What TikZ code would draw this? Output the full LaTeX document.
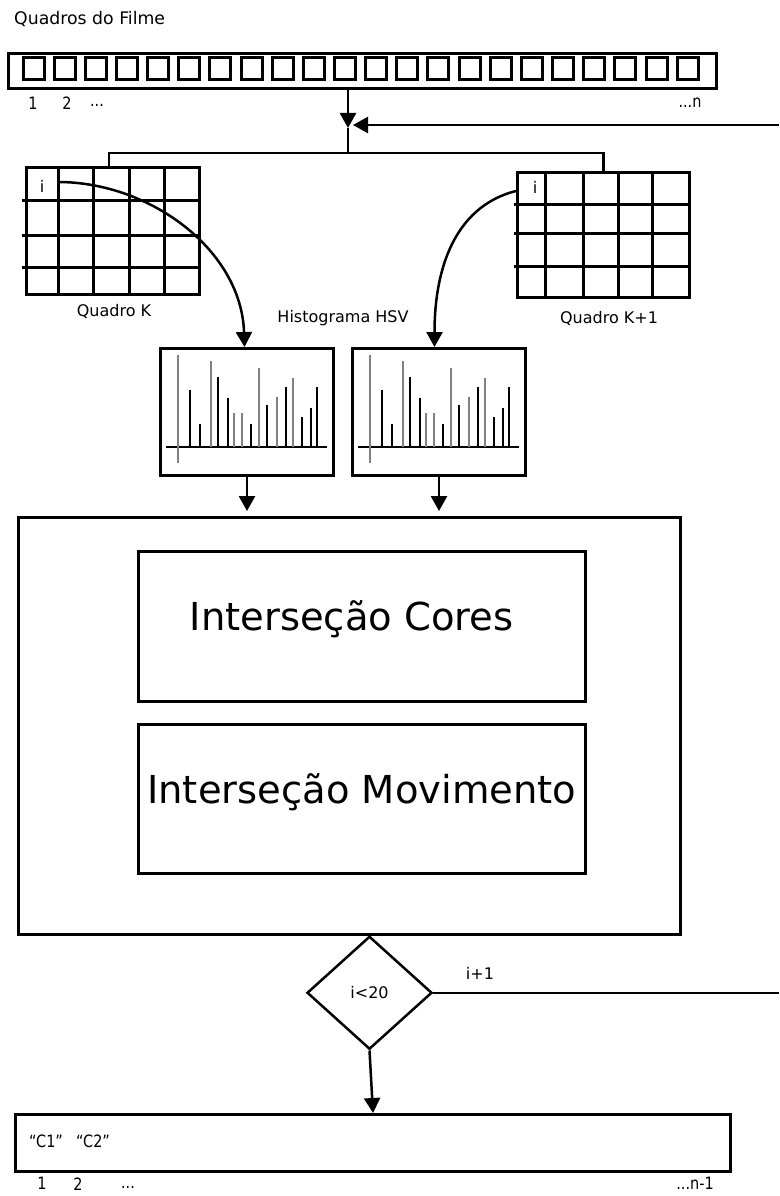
\documentclass[tikz,border=0pt]{standalone}
\usepackage{fontspec}
\setmainfont{DejaVu Sans}
\newfontfamily\condfont[FakeStretch=0.85]{DejaVu Sans}
\usetikzlibrary{arrows.meta,shapes.geometric,positioning}

\begin{document}
\begin{tikzpicture}[x=1pt,y=-1pt,>={Triangle[width=16pt,length=15pt]},
    every node/.style={font=\fontsize{16}{18}\selectfont},
    box/.style={draw,rectangle,line width=2.5pt,inner sep=0pt,anchor=north west},
    lbl/.style={inner sep=0pt,font=\condfont\fontsize{17}{19}\selectfont},
    big/.style={anchor=base,inner sep=0pt,font=\fontsize{38.5}{44}\selectfont},
    flow/.style={line width=2.5pt}]
        \useasboundingbox (0,0) rectangle (779,1196);
        % film frames
        \node [anchor=west,inner sep=0pt,font=\fontsize{17.3}{19}\selectfont] (title) at (14,19) {Quadros do Filme};
        \node [box,line width=3pt,minimum width=708pt,minimum height=35pt] (strip) at (7,52) {};
        \foreach \i in {0,...,21}
            \draw [line width=3pt] ({23+31.15*\i},58) rectangle +(21,22);
        \node [lbl] (f1) at (33,103) {1};
        \node [lbl] (f2) at (67,103) {2};
        \node [lbl] (fdots) at (97,105) {...};
        \node [lbl] (fn) at (690,103) {...n};
        % split to the two frames
        \coordinate (join) at (348,128);
        \coordinate (split) at (348,153);
        \coordinate (loopTop) at (779,125);
        \draw [flow,->] (strip.south -| join) -- (join);
        \draw [flow,->] (loopTop) -- ([xshift=5pt]join |- loopTop);
        \draw [flow] (join) -- (split);
        \node [box,line width=3pt,minimum width=173pt,minimum height=127pt] (gridK) at (25,166) {};
        \node [box,line width=3pt,minimum width=172pt,minimum height=125pt] (gridK1) at (516,171) {};
        \draw [flow] ([xshift=-4pt]gridK.north) |- (split) -| (gridK1.north);
        \foreach \dx in {33,68,104,139}
            \draw [line width=3pt] (gridK.north west) ++(\dx,0) -- ++(0,127);
        \foreach \dy in {34,69,101}
            \draw [line width=3pt] (gridK.north west) ++(-3,\dy) -- ++(176,0);
        \foreach \dx in {29,67,102,136}
            \draw [line width=3pt] (gridK1.north west) ++(\dx,0) -- ++(0,125);
        \foreach \dy in {33,62,95}
            \draw [line width=3pt] (gridK1.north west) ++(-2,\dy) -- ++(175,0);
        \node (iK) at (42,186) {i};
        \node (iK1) at (535,187) {i};
        \node (qK) at (114,311) {Quadro K};
        \node (qK1) at (609,318) {Quadro K+1};
        \node (hsv) at (343,318) {Histograma HSV};
        % histograms
        \node [box,line width=3pt,minimum width=173pt,minimum height=127pt] (histK) at (159,347) {};
        \node [box,line width=3pt,minimum width=173pt,minimum height=127pt] (histK1) at (351,347) {};
        \foreach \h in {histK,histK1} {
            \begin{scope}[shift={(\h.north west)}]
                \draw [line width=1.6pt] (7,100) -- (168,100);
                \draw [line width=2pt,gray] (19,8) -- (19,116);
                \foreach \bx/\by/\bc in {31/43/black,41/77/black,52/14/gray,59/30/black,
                        69/51/black,75/66/gray,83/66/gray,92/77/black,100/21/gray,
                        108/58/black,118/50/gray,127/40/black,134/31/gray,143/70/black,
                        152/61/black,158/40/black}
                    \draw [line width=2pt,\bc] (\bx,100) -- (\bx,\by);
            \end{scope}
        }
        \draw [flow,->] ([shift={(33,16)}]gridK.north west) .. controls +(92,0) and +(-3,-97) .. ([xshift=-2.5pt]histK.north);
        \draw [flow,->] ([shift={(0,20)}]gridK1.north west) .. controls +(-56,14) and +(0,-87) .. ([xshift=-4.5pt]histK1.north);
        \draw [flow,->] (histK.south) -- ++(0,34);
        \draw [flow,->] (histK1.south) -- ++(0,34);
        % intersection
        \node [box,minimum width=662pt,minimum height=417pt] (proc) at (17,516) {};
        \node [box,minimum width=447pt,minimum height=150pt] (cores) at (137,550) {};
        \node [box,minimum width=447pt,minimum height=149pt] (movim) at (137,723) {};
        \node [big] (coresTxt) at ([xshift=-10pt,yshift=-4pt]cores.center) {Interseção Cores};
        \node [big] (movimTxt) at ([yshift=-5pt]movim.center) {Interseção Movimento};
        % test and result
        \node [draw,diamond,line width=2.5pt,minimum width=125pt,minimum height=113pt,
               inner sep=0pt,anchor=north] (test) at (369.5,935) {i<20};
        \coordinate (loopBot) at (779,991);
        \draw [flow] (test.east) -- (test.east -| loopBot);
        \node (inc) at (480,973) {i+1};
        \node [box,line width=3pt,minimum width=715pt,minimum height=57pt] (result) at (14,1113) {};
        \draw [flow,->] (test.south) -- (result.north);
        \node [lbl,anchor=west] (c1) at (29,1141) {“C1”};
        \node [lbl,anchor=west] (c2) at (76,1141) {“C2”};
        \node [lbl] (r1) at (42,1183) {1};
        \node [lbl] (r2) at (78,1184) {2};
        \node [lbl] (rdots) at (128,1187) {...};
        \node [lbl] (rn) at (695,1183) {...n-1};
\end{tikzpicture}
\end{document}
